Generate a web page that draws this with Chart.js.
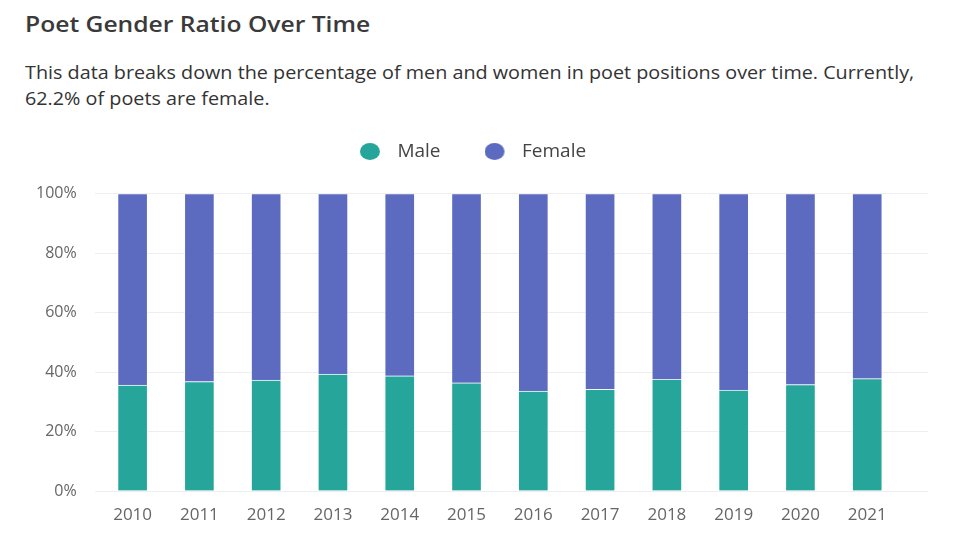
<!DOCTYPE html>
<html>
<head>
<meta charset="utf-8">
<script src="https://cdn.jsdelivr.net/npm/chart.js@4"></script>
<style>
  html, body { margin: 0; padding: 0; background: #fff; width: 960px; height: 540px; overflow: hidden; font-family: "Open Sans", sans-serif; }
  #title { position: absolute; left: 25px; top: 11.5px; font-size: 22px; line-height: 22px; font-weight: 600; color: #3a3a3a; white-space: nowrap; transform: scaleX(1.12); transform-origin: 0 0; }
  #sub { position: absolute; left: 25px; top: 59.2px; width: 820px; font-size: 17.5px; line-height: 26px; color: #333; white-space: nowrap; transform: scaleX(1.13); transform-origin: 0 0; }
  #wrap { position: absolute; left: 0; top: 98px; width: 960px; height: 442px; }
  canvas { display: block; }
</style>
</head>
<body>
<div id="title">Poet Gender Ratio Over Time</div>
<div id="sub">This data breaks down the percentage of men and women in poet positions over time. Currently,<br>62.2% of poets are female.</div>
<div id="wrap"><canvas id="c"></canvas></div>
<script>
const years = ["2010","2011","2012","2013","2014","2015","2016","2017","2018","2019","2020","2021"];
const male   = [35.6, 36.8, 37.3, 39.3, 38.7, 36.4, 33.6, 34.2, 37.5, 33.9, 35.8, 37.8];
const female = [64.4, 63.2, 62.7, 60.7, 61.3, 63.6, 66.4, 65.8, 62.5, 66.1, 64.2, 62.2];
const yTicks = [0, 20, 40, 60, 80, 100];
const colors = ['#26a69a', '#5c6bc0'];

const toPts = arr => arr.map((v, i) => ({ x: i, y: v }));

function marker(color) {
  const c = document.createElement('canvas');
  c.width = 28; c.height = 17;
  const g = c.getContext('2d');
  g.fillStyle = color;
  g.beginPath();
  g.ellipse(10, 8.5, 10, 8.5, 0, 0, Math.PI * 2);
  g.fill();
  return c;
}
const markers = colors.map(marker);

const legendGap = {
  id: 'legendGap',
  afterInit(chart) {
    const lg = chart.legend;
    const orig = lg.fit;
    lg.fit = function () { orig.call(this); this.height = 95.5; };
  }
};

new Chart(document.getElementById('c'), {
  type: 'bar',
  data: {
    datasets: [
      { label: 'Male', data: toPts(male), backgroundColor: colors[0], borderColor: 'rgba(255,255,255,0.45)', borderWidth: 1, barThickness: 30 },
      { label: 'Female', data: toPts(female), backgroundColor: colors[1], borderColor: 'rgba(255,255,255,0.45)', borderWidth: 1, barThickness: 30 }
    ]
  },
  plugins: [legendGap],
  options: {
    responsive: true,
    maintainAspectRatio: false,
    animation: false,
    layout: { padding: { left: 18, right: 32, top: 0, bottom: 8.6 } },
    plugins: {
      legend: {
        position: 'top',
        labels: {
          usePointStyle: true,
          pointStyleWidth: 28,
          boxHeight: 17,
          color: '#444',
          font: { family: 'Open Sans', size: 19 },
          padding: 44,
          generateLabels: chart => {
            const items = Chart.defaults.plugins.legend.labels.generateLabels(chart);
            items.forEach((it, i) => { it.pointStyle = markers[i]; });
            return items;
          }
        }
      },
      tooltip: { enabled: false }
    },
    scales: {
      x: {
        type: 'linear',
        stacked: true,
        offset: false,
        min: -0.568,
        max: 11.91,
        grid: { display: false },
        border: { display: false },
        afterBuildTicks: s => { s.ticks = years.map((y, i) => ({ value: i })); },
        ticks: {
          autoSkip: false,
          maxRotation: 0,
          color: '#666',
          font: { family: 'Open Sans', size: 17 },
          padding: 6,
          callback: v => years[v]
        }
      },
      y: {
        stacked: true,
        min: 0,
        max: 100,
        afterBuildTicks: s => { s.ticks = yTicks.map(v => ({ value: v })); },
        grid: { color: '#eeeeee', drawTicks: false },
        border: { display: false },
        ticks: {
          color: '#666',
          font: { family: 'Open Sans', size: 16 },
          padding: 18,
          callback: v => v + '%'
        }
      }
    }
  }
});
</script>
</body>
</html>
